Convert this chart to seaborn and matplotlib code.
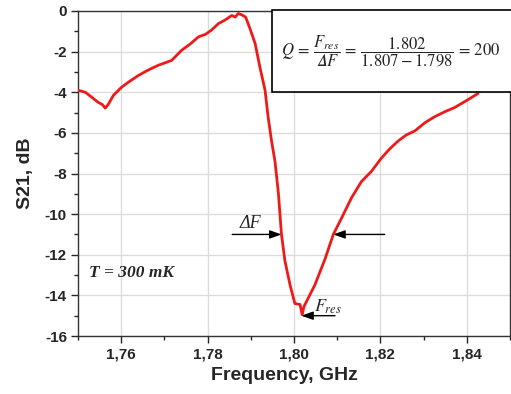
import matplotlib
matplotlib.use("Agg")
import matplotlib.pyplot as plt
import seaborn as sns
import pandas as pd
from matplotlib.patches import Rectangle

# S21 transmission
freq = [1.7500, 1.7517, 1.7532, 1.7547, 1.7556, 1.7563, 1.7570, 1.7582, 1.7601,
        1.7617, 1.7640, 1.7663, 1.7686, 1.7717, 1.7740, 1.7760, 1.7779, 1.7795,
        1.7809, 1.7825, 1.7840, 1.7856, 1.7864, 1.7871, 1.7880, 1.7888, 1.7898,
        1.7910, 1.7921, 1.7933, 1.7940, 1.7948, 1.7956, 1.7964, 1.7971, 1.7979,
        1.7991, 1.8002, 1.8014, 1.8019, 1.8023, 1.8029, 1.8048, 1.8072, 1.8091,
        1.8110, 1.8133, 1.8156, 1.8179, 1.8202, 1.8221, 1.8241, 1.8260, 1.8280,
        1.8303, 1.8326, 1.8350, 1.8372, 1.8400, 1.8426]
s21 = [-3.90, -4.00, -4.25, -4.50, -4.60, -4.78, -4.60, -4.15, -3.75,
       -3.50, -3.17, -2.90, -2.67, -2.43, -1.93, -1.62, -1.27, -1.15,
       -0.94, -0.62, -0.45, -0.22, -0.30, -0.12, -0.20, -0.30, -0.86,
       -1.60, -2.76, -3.90, -5.20, -6.40, -7.40, -9.00, -11.00, -12.30,
       -13.50, -14.40, -14.45, -14.95, -14.55, -14.30, -13.50, -12.20, -11.00,
       -10.20, -9.20, -8.40, -7.90, -7.25, -6.80, -6.40, -6.10, -5.90,
       -5.50, -5.20, -4.95, -4.75, -4.40, -4.06]

x_ticks = [1.76, 1.78, 1.80, 1.82, 1.84]
x_tick_labels = ['1,76', '1,78', '1,80', '1,82', '1,84']
x_minor = [1.75, 1.77, 1.79, 1.81, 1.83, 1.85]
y_ticks = [-16, -14, -12, -10, -8, -6, -4, -2, 0]
y_tick_labels = ['-16', '-14', '-12', '-10', '-8', '-6', '-4', '-2', '0']
y_minor = [-15, -13, -11, -9, -7, -5, -3, -1]

sns.set_style("white")
plt.rcParams['font.family'] = ['Liberation Sans', 'DejaVu Sans']
plt.rcParams['mathtext.fontset'] = 'stix'

fig = plt.figure(figsize=(5.11, 3.94), dpi=100)
ax = fig.add_axes([78 / 511, 58 / 394, 432 / 511, 325 / 394])

df = pd.DataFrame({'freq': freq, 's21': s21})
sns.lineplot(data=df, x='freq', y='s21', color='#ee1a1a', lw=2, ax=ax, zorder=3)

ax.set_xlim(1.75, 1.85)
ax.set_ylim(-16, 0)
ax.set_xticks(x_ticks)
ax.set_xticklabels(x_tick_labels, fontsize=11, fontweight='bold')
ax.set_xticks(x_minor, minor=True)
ax.set_yticks(y_ticks)
ax.set_yticklabels(y_tick_labels, fontsize=11, fontweight='bold')
ax.set_yticks(y_minor, minor=True)
ax.tick_params(which='major', direction='out', length=5, width=1, pad=3, bottom=True, left=True)
ax.tick_params(which='minor', direction='out', length=3, width=1, bottom=True, left=True)
ax.grid(True, which='major', color='#dcdcdc', lw=1)
for sp in ax.spines.values():
    sp.set_color('#333333')
    sp.set_linewidth(1)

ax.set_xlabel('Frequency, GHz', fontsize=14, fontweight='bold')
ax.set_ylabel('S21, dB', fontsize=14, fontweight='bold')
ax.xaxis.set_label_coords(0.477, -0.095)
ax.yaxis.set_label_coords(-0.102, 0.5)

# linewidth arrows
arrow = dict(arrowstyle='-|>,head_length=0.7,head_width=0.25', color='black', lw=1,
             shrinkA=0, shrinkB=0)
ax.annotate('', xy=(1.7971, -11.0), xytext=(1.7857, -11.0), arrowprops=arrow)
ax.annotate('', xy=(1.8091, -11.0), xytext=(1.8210, -11.0), arrowprops=arrow)
ax.annotate('', xy=(1.8017, -15.0), xytext=(1.8095, -15.0), arrowprops=arrow)

ax.text(1.7900, -10.45, 'ΔF', family='Liberation Serif', style='italic',
        ha='center', va='center', fontsize=13)
ax.text(1.8046, -14.55, r'$F_{res}$', ha='left', va='center', fontsize=13)
ax.text(1.7526, -12.9, 'T = 300 mK', family='Liberation Serif', fontweight='bold',
        style='italic', fontsize=12.5, ha='left', va='center')

# Q formula box
ax.add_patch(Rectangle((0.449, 0.752), 0.56, 0.25, transform=ax.transAxes,
                       facecolor='white', edgecolor='black', lw=1.2,
                       clip_on=False, zorder=5))
ax.text(0.725, 0.877,
        r'$Q\,=\,\dfrac{F_{res}}{𝛥F}\,=\,\dfrac{1.802}{1.807 - 1.798}\,=\,200$',
        transform=ax.transAxes, ha='center', va='center', fontsize=12, zorder=6)

fig.savefig('out.png', dpi=100)
